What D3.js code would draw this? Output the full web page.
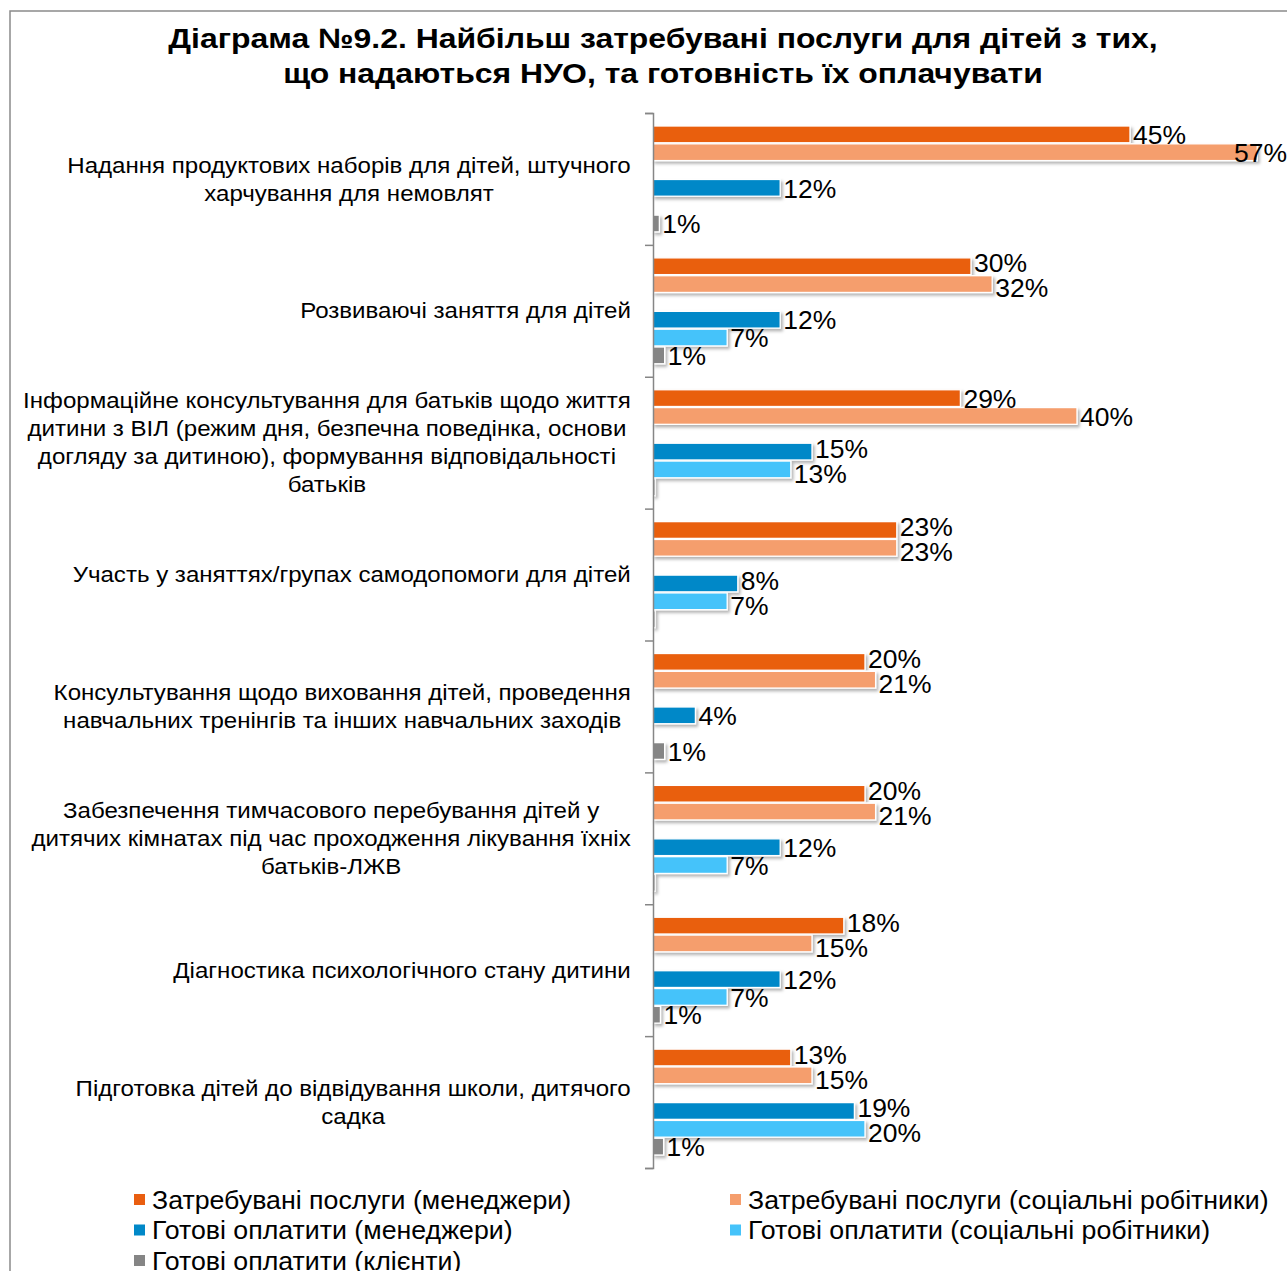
<!DOCTYPE html>
<html>
<head>
<meta charset="utf-8">
<script src="https://cdn.jsdelivr.net/npm/d3@7"></script>
<style>
  html, body { margin: 0; padding: 0; background: #fff; }
  svg { display: block; font-family: "Liberation Sans", Arial, sans-serif; }
</style>
</head>
<body>
<div id="chart"></div>
<script>
// ---------- DATA ----------
const TITLE_LINES = [
  "Діаграма №9.2. Найбільш затребувані послуги для дітей з тих,",
  "що надаються НУО, та готовність їх оплачувати"
];

// category labels, already split in lines as in the original
const CATEGORIES = [
  ["Надання продуктових наборів для дітей, штучного", "харчування для немовлят"],
  ["Розвиваючі заняття для дітей"],
  ["Інформаційне консультування для батьків щодо життя", "дитини з ВІЛ (режим дня, безпечна поведінка, основи", "догляду за дитиною), формування відповідальності", "батьків"],
  ["Участь у заняттях/групах самодопомоги для дітей"],
  ["Консультування щодо виховання дітей, проведення", "навчальних тренінгів та інших навчальних заходів"],
  ["Забезпечення тимчасового перебування дітей у", "дитячих кімнатах під час проходження лікування їхніх", "батьків-ЛЖВ"],
  ["Діагностика психологічного стану дитини"],
  ["Підготовка дітей до відвідування школи, дитячого", "садка"]
];

const SERIES_NAMES = [
  "Затребувані послуги (менеджери)",
  "Затребувані послуги (соціальні робітники)",
  "Готові оплатити (менеджери)",
  "Готові оплатити (соціальні робітники)",
  "Готові оплатити (клієнти)"
];

// percent values, one per category (null = no bar)
const DEMAND_MANAGERS = [45, 30, 29, 23, 20, 20, 18, 13];
const DEMAND_SOCIAL   = [57, 32, 40, 23, 21, 21, 15, 15];
const PAY_MANAGERS    = [12, 12, 15, 8, 4, 12, 12, 19];
const PAY_SOCIAL      = [null, 7, 13, 7, null, 7, 7, 20];
const PAY_CLIENTS     = [0.6, 1.1, 0.2, 0.2, 1.1, 0.2, 0.7, 1.0];

// ---------- STYLE ----------
const COLORS = ["#E95E10", "#F59E6D", "#0088C8", "#45C3FA", "#858585"];
const W = 1287, H = 1271;
const AXIS_X = 653, PLOT_TOP = 113, PLOT_BOTTOM = 1168;
// the original text is slightly wider than Arial at the same height
const SX_TITLE = 1.14, SX_CAT = 1.095, SX_VAL = 1.06, SX_LEG = 1.07;

// series in slot order; the empty slot separates demand and payment bars
const SERIES_VALUES = [DEMAND_MANAGERS, DEMAND_SOCIAL, PAY_MANAGERS, PAY_SOCIAL, PAY_CLIENTS];
const SLOTS = ["s0", "s1", "gap", "s2", "s3", "s4"];
const slotOfSeries = ["s0", "s1", "s2", "s3", "s4"];

const rows = [];
CATEGORIES.forEach((c, ci) => {
  SERIES_VALUES.forEach((vals, si) => {
    if (vals[ci] != null) rows.push({ cat: ci, series: si, value: vals[ci] });
  });
});

// ---------- SCAFFOLD ----------
const svg = d3.select("#chart").append("svg")
  .attr("width", W)
  .attr("height", H);

const defs = svg.append("defs");
const shadow = defs.append("filter")
  .attr("id", "shadow")
  .attr("x", "-5%").attr("y", "-40%")
  .attr("width", "120%").attr("height", "200%");
shadow.append("feDropShadow")
  .attr("dx", 2).attr("dy", 2.5)
  .attr("stdDeviation", 1.6)
  .attr("flood-color", "#000")
  .attr("flood-opacity", 0.3);

// frame
svg.append("rect")
  .attr("x", 10).attr("y", 11)
  .attr("width", W + 20).attr("height", H + 20)
  .attr("fill", "none")
  .attr("stroke", "#8a8a8a")
  .attr("stroke-width", 1.5);

// title
svg.append("g").selectAll("text")
  .data(TITLE_LINES)
  .join("text")
  .attr("transform", (d, i) => `translate(663,${48 + i * 35}) scale(${SX_TITLE},1)`)
  .attr("text-anchor", "middle")
  .attr("font-size", 28)
  .attr("font-weight", "bold")
  .attr("fill", "#000")
  .text(d => d);

// ---------- SCALES ----------
const x = d3.scaleLinear()
  .domain([0, 60])
  .range([AXIS_X, AXIS_X + 636]);

const y0 = d3.scaleBand()
  .domain(d3.range(CATEGORIES.length))
  .range([PLOT_TOP, PLOT_BOTTOM])
  .padding(0);

const y1 = d3.scaleBand()
  .domain(SLOTS)
  .range([13, y0.bandwidth() - 13])
  .paddingInner(0.06);

// ---------- BARS ----------
const bars = svg.append("g").attr("filter", "url(#shadow)");
bars.selectAll("rect")
  .data(rows)
  .join("rect")
  .attr("x", x(0))
  .attr("y", d => y0(d.cat) + y1(slotOfSeries[d.series]))
  .attr("width", d => x(d.value) - x(0))
  .attr("height", y1.bandwidth())
  .attr("fill", d => COLORS[d.series])
  .attr("stroke", "#fff")
  .attr("stroke-width", 1.3);

// ---------- AXIS ----------
const yIdx = d3.scaleLinear()
  .domain([0, CATEGORIES.length])
  .range([PLOT_TOP, PLOT_BOTTOM]);

const axis = svg.append("g")
  .attr("transform", `translate(${AXIS_X},0)`)
  .call(d3.axisLeft(yIdx).ticks(CATEGORIES.length).tickSize(8).tickSizeOuter(8).tickFormat(""));
axis.selectAll("line, path").attr("stroke", "#868686").attr("stroke-width", 1.5);

// ---------- CATEGORY LABELS ----------
const LABEL_RIGHT = 631, LINE_H = 28;
CATEGORIES.forEach((lines, ci) => {
  const g = svg.append("g");
  const cy = y0(ci) + y0.bandwidth() / 2;
  const texts = g.selectAll("text")
    .data(lines)
    .join("text")
    .attr("font-size", 22)
    .attr("fill", "#000")
    .attr("text-anchor", "middle")
    .attr("dominant-baseline", "central")
    .text(d => d);
  const maxW = d3.max(texts.nodes(), n => n.getComputedTextLength()) * SX_CAT;
  const cx = LABEL_RIGHT - maxW / 2;
  texts.attr("transform", (d, i) =>
    `translate(${cx},${cy + (i - (lines.length - 1) / 2) * LINE_H}) scale(${SX_CAT},1)`);
});

// ---------- VALUE LABELS ----------
const labelData = rows.filter(d => Math.round(d.value) > 0);
const labels = svg.append("g").selectAll("text")
  .data(labelData)
  .join("text")
  .attr("font-size", 25)
  .attr("fill", "#000")
  .attr("dominant-baseline", "central")
  .text(d => Math.round(d.value) + "%");

// initial place: right of the bar end, kept inside the picture
labels.each(function(d) {
  d.w = this.getComputedTextLength() * SX_VAL;
  d.lx = Math.min(x(d.value) + 3, W - d.w);
  d.ly = y0(d.cat) + y1(slotOfSeries[d.series]) + y1.bandwidth() / 2 + 1;
});

// push apart labels of the same group that would overlap
const MIN_SEP = 25;
for (let pass = 0; pass < 20; pass++) {
  for (let i = 0; i < labelData.length; i++) {
    for (let j = i + 1; j < labelData.length; j++) {
      const a = labelData[i], b = labelData[j];
      if (a.cat !== b.cat) continue;
      const xOverlap = a.lx < b.lx + b.w && b.lx < a.lx + a.w;
      const dy = b.ly - a.ly;
      if (xOverlap && Math.abs(dy) < MIN_SEP) {
        const shift = (MIN_SEP - Math.abs(dy)) / 2;
        const dir = dy >= 0 ? 1 : -1;
        a.ly -= shift * dir;
        b.ly += shift * dir;
      }
    }
  }
}
labels.attr("transform", d => `translate(${d.lx},${d.ly}) scale(${SX_VAL},1)`);

// ---------- LEGEND ----------
const LEGEND_COLS = [134, 730];
const legend = svg.append("g");
SERIES_NAMES.forEach((name, i) => {
  const col = i % 2, row = Math.floor(i / 2);
  const lx = LEGEND_COLS[col], ly = 1200 + row * 30.5;
  legend.append("rect")
    .attr("x", lx).attr("y", ly - 6)
    .attr("width", 11).attr("height", 11)
    .attr("fill", COLORS[i]);
  legend.append("text")
    .attr("transform", `translate(${lx + 18},${ly}) scale(${SX_LEG},1)`)
    .attr("font-size", 25)
    .attr("dominant-baseline", "central")
    .attr("fill", "#000")
    .text(name);
});
</script>
</body>
</html>
